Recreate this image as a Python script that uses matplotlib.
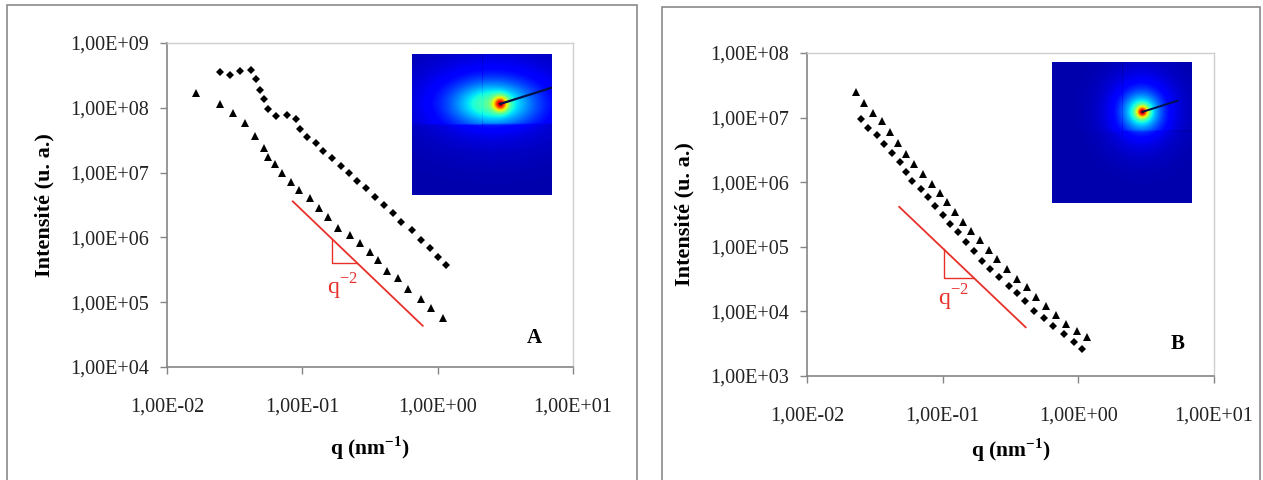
import numpy as np
import matplotlib
matplotlib.use("Agg")
import matplotlib.pyplot as plt
from matplotlib.patches import Rectangle
from matplotlib.ticker import FuncFormatter, LogLocator, NullLocator

plt.rcParams['font.family'] = ['Liberation Serif', 'DejaVu Serif']
plt.rcParams['mathtext.fontset'] = 'custom'
plt.rcParams['mathtext.rm'] = 'Liberation Serif'
plt.rcParams['mathtext.bf'] = 'Liberation Serif:bold'

# ---- panel A data ----
qA_tri = [0.0163, 0.0246, 0.0305, 0.0374, 0.0445, 0.0519, 0.0560, 0.0631, 0.0705,
          0.0821, 0.0944, 0.113, 0.132, 0.154, 0.184, 0.225, 0.269, 0.315, 0.365,
          0.422, 0.513, 0.607, 0.748, 0.891, 1.09]
IA_tri = [1.67e8, 1.13e8, 8.2e7, 5.8e7, 3.7e7, 2.37e7, 1.76e7, 1.36e7, 9.8e6,
          7.2e6, 5.3e6, 4.1e6, 2.8e6, 2.04e6, 1.41e6, 1.08e6, 8.1e5, 6.0e5, 4.48e5,
          3.06e5, 2.34e5, 1.6e5, 1.11e5, 8.1e4, 5.8e4]
qA_dia = [0.0246, 0.0292, 0.0344, 0.0415, 0.0454, 0.0490, 0.0522, 0.0560, 0.0644,
          0.0766, 0.0893, 0.0964, 0.108, 0.126, 0.143, 0.165, 0.192, 0.221, 0.254,
          0.294, 0.343, 0.400, 0.469, 0.540, 0.641, 0.748, 0.879, 1.01, 1.16]
IA_dia = [3.6e8, 3.2e8, 3.7e8, 3.8e8, 2.75e8, 1.88e8, 1.35e8, 9.7e7, 7.5e7,
          7.7e7, 6.7e7, 4.7e7, 3.6e7, 2.9e7, 2.18e7, 1.66e7, 1.28e7, 9.8e6, 7.5e6,
          5.7e6, 4.25e6, 3.2e6, 2.4e6, 1.75e6, 1.3e6, 9.1e5, 6.9e5, 5.0e5, 3.75e5]

# ---- panel B data ----
qB_tri = [0.0231, 0.0263, 0.0308, 0.0356, 0.0411, 0.0468, 0.0535, 0.0617, 0.0716,
          0.0830, 0.0957, 0.107, 0.123, 0.141, 0.161, 0.188, 0.218, 0.253, 0.296,
          0.351, 0.415, 0.485, 0.582, 0.690, 0.817, 0.980, 1.15]
IB_tri = [2.52e7, 1.66e7, 1.19e7, 8.95e6, 5.9e6, 4.08e6, 2.73e6, 1.91e6, 1.34e6,
          9.3e5, 6.7e5, 4.9e5, 3.5e5, 2.45e5, 1.77e5, 1.27e5, 8.9e4, 6.4e4, 4.6e4,
          3.2e4, 2.36e4, 1.69e4, 1.21e4, 8.7e3, 6.4e3, 5.0e3, 4.0e3]
qB_dia = [0.0248, 0.0283, 0.0329, 0.0372, 0.0422, 0.0484, 0.0535, 0.0596, 0.0692,
          0.0777, 0.0877, 0.100, 0.113, 0.130, 0.148, 0.170, 0.195, 0.223, 0.262,
          0.306, 0.351, 0.407, 0.475, 0.555, 0.653, 0.780, 0.923, 1.07]
IB_dia = [9.4e6, 6.98e6, 5.4e6, 3.9e6, 2.86e6, 2.08e6, 1.45e6, 1.04e6, 7.9e5,
          5.8e5, 4.3e5, 3.1e5, 2.25e5, 1.68e5, 1.2e5, 8.7e4, 6.1e4, 4.5e4, 3.4e4,
          2.5e4, 1.9e4, 1.45e4, 1.03e4, 7.8e3, 5.9e3, 4.5e3, 3.4e3, 2.6e3]

# q^-2 guide lines: prefactor, q range, slope triangle legs, label position
slopeA = dict(C=2.6e4, q=(0.085, 0.775), tri=(0.165, 0.254), lab=(0.196, 1.75e5))
slopeB = dict(C=950.0, q=(0.0478, 0.409), tri=(0.1016, 0.17), lab=(0.119, 1.65e4))

RED = '#e8302a'
GRAY = '#858585'


def sci_comma(v, pos):
    return '{:.2E}'.format(v).replace('.', ',')


def style_axes(ax, ylim, xlabelpad):
    ax.set_xscale('log')
    ax.set_yscale('log')
    ax.set_xlim(1e-2, 1e1)
    ax.set_ylim(*ylim)
    ax.xaxis.set_major_locator(LogLocator(base=10, numticks=10))
    ax.yaxis.set_major_locator(LogLocator(base=10, numticks=12))
    ax.xaxis.set_minor_locator(NullLocator())
    ax.yaxis.set_minor_locator(NullLocator())
    ax.xaxis.set_major_formatter(FuncFormatter(sci_comma))
    ax.yaxis.set_major_formatter(FuncFormatter(sci_comma))
    for s in ('left', 'bottom'):
        ax.spines[s].set_color(GRAY)
        ax.spines[s].set_linewidth(1.2)
    for s in ('top', 'right'):
        ax.spines[s].set_color('#cfcfcf')
        ax.spines[s].set_linewidth(1.0)
    ax.tick_params(axis='both', direction='out', length=5, width=1.0,
                   color=GRAY, labelsize=14.5, labelcolor='#222222')
    ax.tick_params(axis='y', pad=8)
    ax.tick_params(axis='x', pad=17)
    ax.set_xlabel('q (nm$^{\\mathbf{-1}}$)', fontsize=15.5, fontweight='bold',
                  labelpad=xlabelpad)
    ax.set_ylabel('Intensité (u. a.)', fontsize=16, fontweight='bold', labelpad=11)


def slope_guide(ax, s):
    C = s['C']
    qq = np.array(s['q'])
    ax.plot(qq, C / qq ** 2, color=RED, lw=1.3)
    q1, q2 = s['tri']
    ax.plot([q1, q1, q2], [C / q1 ** 2, C / q2 ** 2, C / q2 ** 2], color=RED, lw=1.0)
    ax.text(s['lab'][0], s['lab'][1], 'q$^{\\mathrm{-2}}$', color=RED, fontsize=17,
            ha='center', va='center')


def detector_image(cx, cy, hx, sx, sy, core, lower_dim, gap_x, gap_y):
    n = 140
    y, x = np.mgrid[0:n, 0:n].astype(float)
    halo = np.exp(-0.5 * (((x - hx) / sx) ** 2 + ((y - cy) / sy) ** 2))
    wide = np.exp(-0.5 * (((x - hx) / (sx * 2.0)) ** 2 + ((y - cy) / (sy * 2.2)) ** 2))
    pk = np.exp(-0.5 * (((x - cx) ** 2 + (y - cy) ** 2) / core ** 2))
    img = 0.04 + 0.14 * wide + 0.28 * halo + 0.52 * pk
    low = y > gap_y
    img[low] = 0.04 + (img[low] - 0.04) * lower_dim
    img[:gap_y + 5, gap_x:gap_x + 1] -= 0.03
    img[gap_y:gap_y + 1, gap_x:] -= 0.03
    return img


fig = plt.figure(figsize=(12.63, 4.8), dpi=100)

# panel frames
fig.add_artist(Rectangle((7 / 1263, -0.1), 630 / 1263, 1.1 - 5 / 480,
                         transform=fig.transFigure, fill=False, ec='#8a8a8a', lw=1.2))
fig.add_artist(Rectangle((662 / 1263, -0.1), 598 / 1263, 1.1 - 7 / 480,
                         transform=fig.transFigure, fill=False, ec='#8a8a8a', lw=1.2))

# ---- panel A ----
axA = fig.add_axes([167 / 1263, 1 - 367 / 480, 406 / 1263, 324 / 480])
style_axes(axA, (1e4, 1e9), 13)
axA.plot(qA_dia, IA_dia, 'D', color='black', ms=3.8, mew=0)
axA.plot(qA_tri, IA_tri, '^', color='black', ms=6, mew=0)
slope_guide(axA, slopeA)
axA.text(0.905, 0.09, 'A', transform=axA.transAxes, fontsize=15,
         fontweight='bold', ha='center', va='center')

# ---- panel B ----
axB = fig.add_axes([807 / 1263, 1 - 376 / 480, 407 / 1263, 323 / 480])
style_axes(axB, (1e3, 1e8), 8)
axB.plot(qB_dia, IB_dia, 'D', color='black', ms=3.8, mew=0)
axB.plot(qB_tri, IB_tri, '^', color='black', ms=6, mew=0)
slope_guide(axB, slopeB)
axB.text(0.91, 0.10, 'B', transform=axB.transAxes, fontsize=15,
         fontweight='bold', ha='center', va='center')

# ---- SAXS detector insets ----
insA = fig.add_axes([412 / 1263, 1 - 195 / 480, 140 / 1263, 141 / 480])
insA.imshow(detector_image(88, 49, 80, 26, 14, 5.0, 0.55, 70, 69), cmap='jet',
            vmin=0, vmax=1, aspect='auto', interpolation='bilinear')
insA.plot([88, 139], [49, 33], color='#00104a', lw=1.6)
insA.set_axis_off()

insB = fig.add_axes([1052 / 1263, 1 - 203 / 480, 140 / 1263, 141 / 480])
insB.imshow(detector_image(90, 49, 89, 12, 12, 4.0, 0.75, 70, 68), cmap='jet',
            vmin=0, vmax=1, aspect='auto', interpolation='bilinear')
insB.plot([90, 125], [49, 38], color='#00104a', lw=1.4)
insB.set_axis_off()

plt.savefig('out.png', dpi=100)
